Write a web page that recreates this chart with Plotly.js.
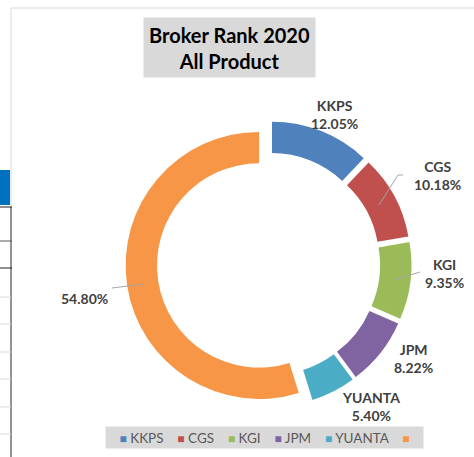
<!DOCTYPE html>
<html>
<head>
<meta charset="utf-8">
<script src="https://cdn.plot.ly/plotly-3.0.1.min.js"></script>
<style>html,body{margin:0;padding:0;background:#fff;}#chart{width:474px;height:457px;}</style>
</head>
<body>
<div id="chart"></div>
<script>
// ---- data ----
const labels = ['KKPS', 'CGS', 'KGI', 'JPM', 'YUANTA', ''];
const values = [12.05, 10.18, 9.35, 8.22, 5.40, 54.80];
const colors = ['#4F81BD', '#C0504D', '#9BBB59', '#8064A2', '#4BACC6', '#F79646'];
const titleLines = ['Broker Rank 2020', 'All Product'];

// ---- layout helpers (pixel -> paper) ----
const W = 474, H = 457;
const px = x => x / W;
const py = y => 1 - y / H;

// label positions (pixel centers) for the data labels
const labelPos = [[334, 114], [437, 175], [444, 273], [413, 358], [371, 406], [84, 298]];

const annotations = [];
labels.forEach((lab, i) => {
  const pct = values[i].toFixed(2) + '%';
  annotations.push({
    xref: 'paper', yref: 'paper', x: px(labelPos[i][0]), y: py(labelPos[i][1]),
    xanchor: 'center', yanchor: 'middle', showarrow: false,
    text: '<b>' + (lab ? lab + '<br>' + pct : pct) + '</b>',
    font: {family: 'Lato, sans-serif', size: 14, color: '#404040'}
  });
});

// title box
annotations.push({
  xref: 'paper', yref: 'paper', x: px(229.5), y: py(47.5),
  xanchor: 'center', yanchor: 'middle', showarrow: false,
  text: '<b>' + titleLines.join('<br>') + '</b>',
  font: {family: 'Lato, sans-serif', size: 20, color: '#000000'},
  bgcolor: '#D9D9D9', width: 171, height: 59, borderpad: 0
});

// legend box
const gap = '\u00a0\u00a0\u00a0\u00a0';
const legendText = labels.map((lab, i) =>
  '<span style="color:' + colors[i] + ';font-size:12px">\u25A0</span>' + (lab ? '\u00a0' + lab : '')
).join(gap);
annotations.push({
  xref: 'paper', yref: 'paper', x: px(264.5), y: py(437),
  xanchor: 'center', yanchor: 'middle', showarrow: false,
  text: legendText,
  font: {family: 'Lato, sans-serif', size: 13.5, color: '#595959'},
  bgcolor: '#D9D9D9', width: 317, height: 21, borderpad: 0
});

const lineCol = '#A6A6A6';
const shapes = [
  // leader lines
  {type: 'path', xref: 'paper', yref: 'paper',
   path: `M ${px(379)} ${py(205)} L ${px(398)} ${py(175)} L ${px(403)} ${py(175)}`,
   line: {color: lineCol, width: 1}},
  {type: 'line', xref: 'paper', yref: 'paper', x0: px(393), y0: py(280), x1: px(420), y1: py(272), line: {color: lineCol, width: 1}},
  {type: 'line', xref: 'paper', yref: 'paper', x0: px(112), y0: py(288), x1: px(143), y1: py(284), line: {color: lineCol, width: 1}},
  // chart border
  {type: 'line', xref: 'paper', yref: 'paper', x0: px(11), y0: py(8), x1: px(474), y1: py(8), line: {color: '#D9D9D9', width: 1}},
  {type: 'line', xref: 'paper', yref: 'paper', x0: px(11), y0: py(8), x1: px(11), y1: py(207), line: {color: '#D9D9D9', width: 1}},
  // left-side sheet fragments
  {type: 'rect', xref: 'paper', yref: 'paper', x0: px(0), y0: py(170), x1: px(10), y1: py(205), fillcolor: '#0070C0', line: {width: 0}},
  {type: 'line', xref: 'paper', yref: 'paper', x0: px(11), y0: py(207), x1: px(11), y1: py(457), line: {color: '#6F6F6F', width: 1.5}},
  {type: 'line', xref: 'paper', yref: 'paper', x0: px(0), y0: py(207), x1: px(12), y1: py(207), line: {color: '#202020', width: 1}},
  {type: 'line', xref: 'paper', yref: 'paper', x0: px(0), y0: py(241), x1: px(12), y1: py(241), line: {color: '#595959', width: 1}},
  {type: 'line', xref: 'paper', yref: 'paper', x0: px(0), y0: py(268), x1: px(12), y1: py(268), line: {color: '#202020', width: 1}}
];
[297, 324, 352, 379, 407, 434].forEach(y => shapes.push(
  {type: 'line', xref: 'paper', yref: 'paper', x0: px(0), y0: py(y), x1: px(11), y1: py(y), line: {color: '#D9D9D9', width: 1}}
));

const trace = {
  type: 'pie',
  labels: labels.map((l, i) => l || ' '),
  values: values,
  marker: {colors: colors, line: {width: 0}},
  hole: 0.765,
  pull: values.map(() => 0.071),
  sort: false,
  direction: 'clockwise',
  rotation: 0,
  textinfo: 'none',
  hoverinfo: 'label+percent',
  domain: {x: [px(125.5), px(411.5)], y: [py(407), py(121)]}
};

const layout = {
  width: W, height: H,
  margin: {l: 0, r: 0, t: 0, b: 0},
  paper_bgcolor: '#ffffff',
  showlegend: false,
  font: {family: 'Lato, sans-serif'},
  annotations: annotations,
  shapes: shapes
};

Plotly.newPlot('chart', [trace], layout, {displayModeBar: false, staticPlot: true});
</script>
</body>
</html>
